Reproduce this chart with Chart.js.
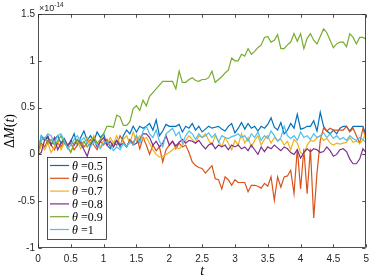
<!DOCTYPE html>
<html><head><meta charset="utf-8">
<script src="https://cdn.jsdelivr.net/npm/chart.js@4/dist/chart.umd.min.js"></script>
<style>html,body{margin:0;padding:0;background:#fff}#wrap{width:374px;height:280px;position:relative}</style>
</head><body><div id="wrap"><canvas id="c" width="374" height="280"></canvas></div>
<script>
// time grid t = 0, 0.05, ..., 5
const T = Array.from({length:101}, (_, i) => +(i * 0.05).toFixed(2));
const thetaLabels = ['0.5','0.6','0.7','0.8','0.9','1'];
const xTickValues = [0,0.5,1,1.5,2,2.5,3,3.5,4,4.5,5];
const yTickValues = [-1,-0.5,0,0.5,1,1.5];
const exponentLabel = '-14';

const s05 = [
 0.00,0.20,0.15,0.18,0.10,0.16,0.20,0.12,0.17,0.10,
 0.14,0.22,0.10,0.18,0.25,0.15,0.20,0.14,0.24,0.18,
 0.22,0.10,0.06,0.12,0.15,0.08,0.20,0.26,0.22,0.30,
 0.24,0.30,0.28,0.30,0.33,0.26,0.37,0.20,0.25,0.32,
 0.30,0.30,0.30,0.32,0.24,0.30,0.28,0.33,0.26,0.30,
 0.24,0.27,0.30,0.28,0.29,0.30,0.27,0.25,0.30,0.33,
 0.23,0.28,0.34,0.27,0.33,0.28,0.30,0.25,0.30,0.28,
 0.32,0.39,0.29,0.26,0.34,0.22,0.26,0.33,0.28,0.43,
 0.27,0.28,0.30,0.30,0.36,0.25,0.45,0.30,0.25,0.22,
 0.26,0.22,0.28,0.30,0.30,0.25,0.30,0.30,0.30,0.30,
 0.20];
const s06 = [
 0.00,0.12,0.08,0.15,0.10,0.05,0.12,0.08,0.15,0.10,
 0.12,0.05,0.10,0.14,0.08,0.12,0.16,0.10,0.05,0.14,
 0.10,0.16,0.08,0.12,0.10,0.20,0.14,0.08,0.16,0.12,
 0.20,0.06,0.18,0.10,0.00,0.10,0.04,0.08,-0.08,0.05,
 0.10,0.14,0.06,0.12,0.08,0.10,0.02,-0.08,-0.12,-0.14,
 -0.15,-0.20,-0.16,-0.12,-0.26,-0.27,-0.37,-0.24,-0.27,-0.33,
 -0.27,-0.30,-0.30,-0.30,-0.40,-0.33,-0.33,-0.34,-0.36,-0.31,
 -0.34,-0.24,-0.49,-0.24,-0.35,-0.24,-0.23,-0.17,-0.42,0.06,
 -0.37,0.06,-0.42,0.06,-0.68,-0.20,0.15,0.28,0.25,0.28,
 0.26,0.26,0.26,0.26,0.30,0.24,0.28,0.20,0.12,0.28,
 0.15];
const s07 = [
 0.00,0.10,0.05,0.12,0.02,0.08,0.15,0.05,0.12,0.08,
 0.03,0.10,0.14,0.06,0.12,0.18,0.10,0.20,0.12,0.08,
 0.15,0.10,0.18,0.12,0.20,0.10,0.16,0.20,0.12,0.24,
 0.14,0.20,0.16,0.18,0.12,0.05,0.00,-0.03,-0.02,0.00,
 0.02,0.05,0.08,0.06,0.10,0.15,0.20,0.16,0.12,0.20,
 0.18,0.22,0.15,0.10,0.20,0.14,0.08,0.18,0.12,0.05,
 0.15,0.10,0.22,0.12,0.18,0.08,0.15,0.20,0.10,0.16,
 0.20,0.12,0.18,0.15,0.16,0.10,0.14,0.05,0.16,0.12,
 0.02,0.00,0.10,0.15,0.14,0.18,0.20,0.15,0.17,0.12,
 0.10,0.12,0.11,0.12,0.13,0.18,0.13,0.14,0.12,0.15,
 0.25];
const s08 = [
 0.00,0.02,0.15,0.20,0.10,0.18,0.05,0.12,0.16,0.08,
 0.15,0.10,0.16,0.12,0.05,-0.02,0.10,0.16,0.08,0.14,
 0.18,0.10,0.14,0.08,0.15,0.10,0.12,0.08,0.15,0.10,
 0.12,0.16,0.22,0.22,0.18,0.10,0.14,0.08,0.12,0.20,
 0.10,0.14,0.09,0.13,0.16,0.12,0.15,0.14,0.12,0.15,
 0.10,0.06,0.10,0.12,0.06,0.10,0.08,0.10,0.05,0.10,
 0.08,0.10,0.06,0.08,0.04,0.10,0.05,0.00,0.08,0.03,
 0.08,0.06,0.10,0.07,0.04,0.08,0.06,0.02,0.00,0.05,
 -0.04,0.02,0.06,0.03,0.06,0.05,0.02,0.03,0.08,0.04,
 -0.02,0.00,0.05,0.06,0.03,-0.05,-0.10,-0.10,-0.05,0.06,
 0.02];
const s09 = [
 0.05,0.15,0.18,0.12,0.16,0.10,0.14,0.20,0.12,0.08,
 0.02,0.12,0.16,0.10,0.14,0.08,0.12,0.18,0.12,0.16,
 0.22,0.30,0.30,0.29,0.42,0.40,0.31,0.31,0.35,0.49,
 0.52,0.47,0.58,0.52,0.62,0.66,0.70,0.74,0.78,0.78,
 0.78,0.78,0.70,0.89,0.77,0.77,0.80,0.82,0.79,0.78,
 0.80,0.80,0.82,0.89,0.77,0.80,0.83,0.87,0.90,1.03,
 1.00,1.00,1.07,1.05,1.13,1.07,1.10,1.14,1.17,1.25,
 1.26,1.20,1.22,1.28,1.13,1.13,1.17,1.20,1.29,1.21,
 1.29,1.13,1.24,1.29,1.22,1.18,1.26,1.34,1.30,1.22,
 1.14,1.18,1.20,1.20,1.15,1.29,1.25,1.18,1.25,1.25,
 1.23];
const s10 = [
 0.05,0.20,0.17,0.22,0.20,0.12,0.20,0.22,0.15,0.06,
 0.10,0.16,0.20,0.14,0.18,0.12,0.08,0.14,0.10,0.06,
 0.12,0.14,0.10,0.04,0.08,0.05,0.12,0.08,0.14,0.10,
 0.20,0.12,0.25,0.30,0.22,0.18,0.26,0.14,0.08,0.22,
 0.25,0.28,0.20,0.24,0.12,0.20,0.25,0.22,0.16,0.22,
 0.18,0.20,0.23,0.18,0.22,0.13,0.20,0.18,0.17,0.19,
 0.20,0.22,0.18,0.20,0.14,0.22,0.18,0.24,0.15,0.20,
 0.17,0.25,0.20,0.14,0.18,0.30,0.20,0.17,0.20,0.15,
 0.24,0.18,0.20,0.16,0.22,0.18,0.20,0.23,0.18,0.22,
 0.17,0.20,0.16,0.18,0.15,0.20,0.17,0.15,0.18,0.16,
 0.12];

const seriesValues = [s05, s06, s07, s08, s09, s10];
const colors = ['#0072BD','#D95319','#EDB120','#7E2F8E','#77AC30','#4DBEEE'];
const AXC = '#262626';

const datasets = seriesValues.map((vals, k) => ({
  label: '\u03b8 =' + thetaLabels[k],
  data: T.map((t, i) => ({x: t, y: vals[i]})),
  borderColor: colors[k],
  backgroundColor: colors[k],
  borderWidth: 1.2,
  pointRadius: 0,
  tension: 0,
  fill: false,
  order: seriesValues.length - k
}));

const decor = {
  id: 'decor',
  afterDatasetsDraw(chart) {
    const ctx = chart.ctx;
    const a = chart.chartArea;
    const xs = chart.scales.x, ys = chart.scales.y;
    const L = Math.round(a.left) + 0.5, R = Math.round(a.right) - 0.5;
    const Tp = Math.round(a.top) + 0.5, B = Math.round(a.bottom) - 0.5;
    ctx.save();
    ctx.strokeStyle = AXC;
    ctx.lineWidth = 0.8;
    ctx.strokeRect(L, Tp, R - L, B - Tp);
    const tl = 3.3;
    ctx.beginPath();
    xTickValues.forEach(v => {
      const p = Math.round(xs.getPixelForValue(v)) + 0.5;
      ctx.moveTo(p, B); ctx.lineTo(p, B - tl);
      ctx.moveTo(p, Tp); ctx.lineTo(p, Tp + tl);
    });
    yTickValues.forEach(v => {
      const p = Math.round(ys.getPixelForValue(v)) + 0.5;
      ctx.moveTo(L, p); ctx.lineTo(L + tl, p);
      ctx.moveTo(R, p); ctx.lineTo(R - tl, p);
    });
    ctx.stroke();

    // exponent label
    ctx.fillStyle = AXC;
    ctx.textBaseline = 'alphabetic';
    ctx.textAlign = 'left';
    ctx.font = '9px "Liberation Sans", Arial, sans-serif';
    const base = '\u00d710';
    ctx.fillText(base, a.left + 1, 11);
    const w = ctx.measureText(base).width;
    ctx.font = '6.5px "Liberation Sans", Arial, sans-serif';
    ctx.fillText(exponentLabel, a.left + 1 + w, 7);

    // x title
    ctx.font = 'italic 14px "Liberation Serif", "DejaVu Serif", serif';
    ctx.textAlign = 'center';
    ctx.fillStyle = '#000';
    ctx.fillText('t', (a.left + a.right) / 2, 275);

    // y title  ΔM(t)
    const parts = [['\u0394', false], ['M', true], ['(', false], ['t', true], [')', false]];
    const fnt = it => (it ? 'italic ' : '') + '14px "Liberation Serif", "DejaVu Serif", serif';
    let tw = 0;
    parts.forEach(p => { ctx.font = fnt(p[1]); tw += ctx.measureText(p[0]).width; });
    ctx.translate(14, (a.top + a.bottom) / 2);
    ctx.rotate(-Math.PI / 2);
    ctx.textAlign = 'left';
    let cx = -tw / 2;
    parts.forEach(p => { ctx.font = fnt(p[1]); ctx.fillText(p[0], cx, 0); cx += ctx.measureText(p[0]).width; });
    ctx.restore();

    // legend
    ctx.save();
    const bx = 47.5, by = 157.5, bw = 59, bh = 82;
    ctx.fillStyle = '#fff';
    ctx.fillRect(bx, by, bw, bh);
    ctx.strokeStyle = AXC;
    ctx.lineWidth = 0.8;
    ctx.strokeRect(bx, by, bw, bh);
    chart.data.datasets.forEach((ds, k) => {
      const yk = 165.5 + k * 12.8;
      ctx.strokeStyle = ds.borderColor;
      ctx.lineWidth = 1.2;
      ctx.beginPath(); ctx.moveTo(50, yk); ctx.lineTo(69, yk); ctx.stroke();
      ctx.fillStyle = '#000';
      ctx.textAlign = 'left';
      ctx.textBaseline = 'alphabetic';
      ctx.font = 'italic 12px "Liberation Serif", "DejaVu Serif", serif';
      const th = ds.label.slice(0, 1);
      ctx.fillText(th, 72, yk + 4);
      const thw = ctx.measureText(th).width;
      ctx.font = '12px "Liberation Serif", "DejaVu Serif", serif';
      ctx.fillText(ds.label.slice(1), 72 + thw, yk + 4);
    });
    ctx.restore();
  }
};

new Chart(document.getElementById('c'), {
  type: 'line',
  data: { datasets },
  options: {
    responsive: false,
    devicePixelRatio: 1,
    animation: false,
    layout: { padding: { top: 14, right: 3, left: 0, bottom: 0 } },
    plugins: { legend: { display: false }, tooltip: { enabled: false } },
    scales: {
      x: {
        type: 'linear', min: 0, max: 5,
        afterBuildTicks: s => { s.ticks = xTickValues.map(v => ({value: v})); },
        afterFit: s => { s.height = 32; },
        grid: { display: false, drawTicks: false, tickLength: 0 }, border: { display: false },
        ticks: { padding: 5, color: AXC, maxRotation: 0, autoSkip: false,
          font: { family: '"Liberation Sans", Arial, sans-serif', size: 10 },
          callback: v => String(v) }
      },
      y: {
        type: 'linear', min: -1, max: 1.5,
        afterBuildTicks: s => { s.ticks = yTickValues.map(v => ({value: v})); },
        afterFit: s => { s.width = 38; },
        grid: { display: false, drawTicks: false, tickLength: 0 }, border: { display: false },
        ticks: { padding: 3, color: AXC, autoSkip: false,
          font: { family: '"Liberation Sans", Arial, sans-serif', size: 10 },
          callback: v => String(v) }
      }
    }
  },
  plugins: [decor]
});
</script></body></html>
